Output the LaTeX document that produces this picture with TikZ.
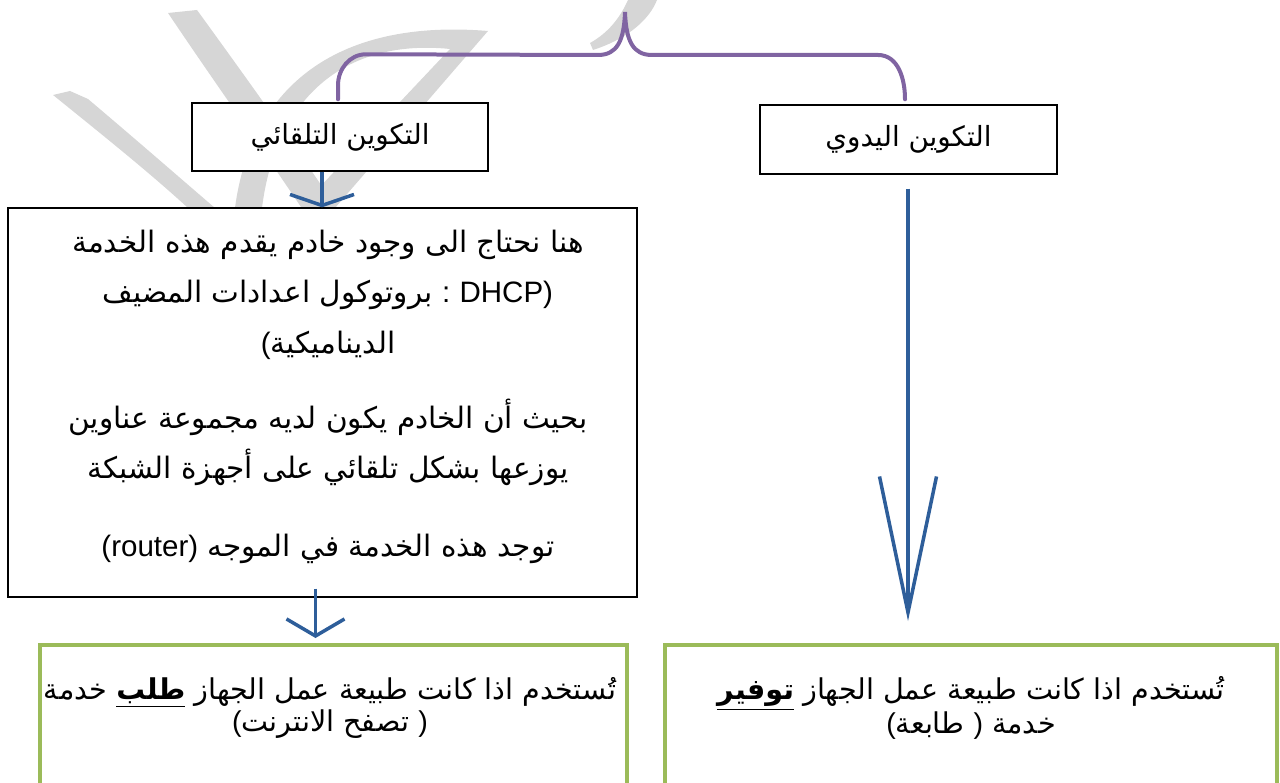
\documentclass[tikz,border=0pt]{standalone}
\usepackage{fontspec}
\setmainfont{Liberation Sans}
\newfontfamily\arabicfont[Script=Arabic]{DejaVu Sans}
\TeXXeTstate=1
\usetikzlibrary{arrows.meta}

\definecolor{bracepurple}{HTML}{8064A2}
\definecolor{flowblue}{HTML}{2E5E9A}
\definecolor{usegreen}{HTML}{9BBB59}
\definecolor{markgray}{HTML}{D6D6D6}

% arabic line, right to left
\newcommand{\ar}[1]{{\arabicfont\beginR #1\endR}}
\newcommand{\lat}[1]{{\rmfamily #1}}

\tikzset{
	plainbox/.style={draw=black, line width=0.8pt, fill=white, inner sep=0pt},
	greenbox/.style={draw=usegreen, line width=0.08cm, fill=white, inner sep=0pt},
	labeltext/.style={font=\fontsize{15.8}{18}\selectfont},
	bodytext/.style={align=center, font=\fontsize{16.8}{28.5}\selectfont},
	greentext/.style={align=center, font=\fontsize{16.3}{18.2}\selectfont},
	bracket/.style={draw=bracepurple, line width=0.08cm, line cap=round},
	flow/.style={draw=flowblue, line width=2pt}
}

\begin{document}
\begin{tikzpicture}[x=0.02cm,y=0.02cm]
	\useasboundingbox (0,0) rectangle (1280,783);

	% watermark
	\fill[markgray] (168,770) -- (197,773) .. controls (250,700) and (300,630) .. (340,570)
		-- (305,570) .. controls (265,630) and (215,700) .. cycle;
	\fill[markgray] (53,688) -- (70,692) -- (88,684) .. controls (140,640) and (180,605) .. (215,575)
		-- (188,575) .. controls (150,610) and (100,650) .. cycle;
	\fill[markgray] (235,575) .. controls (250,690) and (330,765) .. (488,752) -- (335,575)
		-- (300,575) -- (450,734) .. controls (340,745) and (275,680) .. (262,575) -- cycle;
	\fill[markgray] (593,733) .. controls (630,745) and (650,765) .. (657,783)
		-- (628,783) .. controls (620,765) and (608,750) .. (590,740) -- cycle;

	% boxes
	\node[plainbox, labeltext, minimum width=5.92cm, minimum height=1.36cm] (auto) at (340,646)
		{\ar{التكوين التلقائي}};
	\node[plainbox, labeltext, minimum width=5.94cm, minimum height=1.38cm] (manual) at (908.5,643.5)
		{\ar{التكوين اليدوي}};
	\node[plainbox, minimum width=12.58cm, minimum height=7.78cm] (details) at (322.5,380.5) {};
	\node[bodytext] (detailstext) at (328,386) {%
		\ar{هنا نحتاج الى وجود خادم يقدم هذه الخدمة}\\
		\ar{\lat{DHCP)} \lat{:} بروتوكول اعدادات المضيف}\\
		\ar{الديناميكية\lat{(}}\\[0.5cm]
		\ar{بحيث أن الخادم يكون لديه مجموعة عناوين}\\
		\ar{يوزعها بشكل تلقائي على أجهزة الشبكة}\\[0.56cm]
		\ar{توجد هذه الخدمة في الموجه \lat{(router)}}};
	\node[greenbox, minimum width=11.74cm, minimum height=3.1cm] (uses) at (333.5,60.5) {};
	\node[greentext] (usestext) at (330,75) {%
		\ar{تُستخدم اذا كانت طبيعة عمل الجهاز \underline{\textbf{طلب}} خدمة}\\
		\ar{\lat{)} تصفح الانترنت\lat{(}}};
	\node[greenbox, minimum width=12.24cm, minimum height=3.1cm] (provides) at (971,60.5) {};
	\node[greentext] (providestext) at (971,75) {%
		\ar{تُستخدم اذا كانت طبيعة عمل الجهاز \underline{\textbf{توفير}}}\\
		\ar{خدمة \lat{)} طابعة\lat{(}}};

	% brace over both kinds
	\coordinate (peak) at (625,771);
	\draw[bracket] ([shift={(-2,3)}]auto.north) -- ++(0,14) to[out=90,in=180] ++(28,31)
		-- (598,728) .. controls (617,728) and (624,742) .. (peak)
		.. controls (626,742) and (633,728) .. (652,728) -- (878,728)
		to[out=0,in=90] ([shift={(-3.5,5)}]manual.north);

	% arrows
	\draw[flow, -{Straight Barb[length=0.22cm,width=1.28cm,line width=2pt]}]
		([xshift=-0.36cm]auto.south) -- ([xshift=-0.36cm]auto.south |- details.north);
	\draw[flow, -{Straight Barb[length=0.34cm,width=1.16cm,line width=2pt]}, shorten >=0.1cm]
		([shift={(-7,9)}]details.south) -- ([shift={(-7,0)}]details.south |- uses.north);
	\draw[flow, -{Straight Barb[length=2.72cm,width=1.14cm,line width=2pt]},
		shorten <=0.28cm, shorten >=0.44cm]
		([xshift=-0.01cm]manual.south) -- ([xshift=-0.01cm]manual.south |- provides.north);
\end{tikzpicture}
\end{document}
